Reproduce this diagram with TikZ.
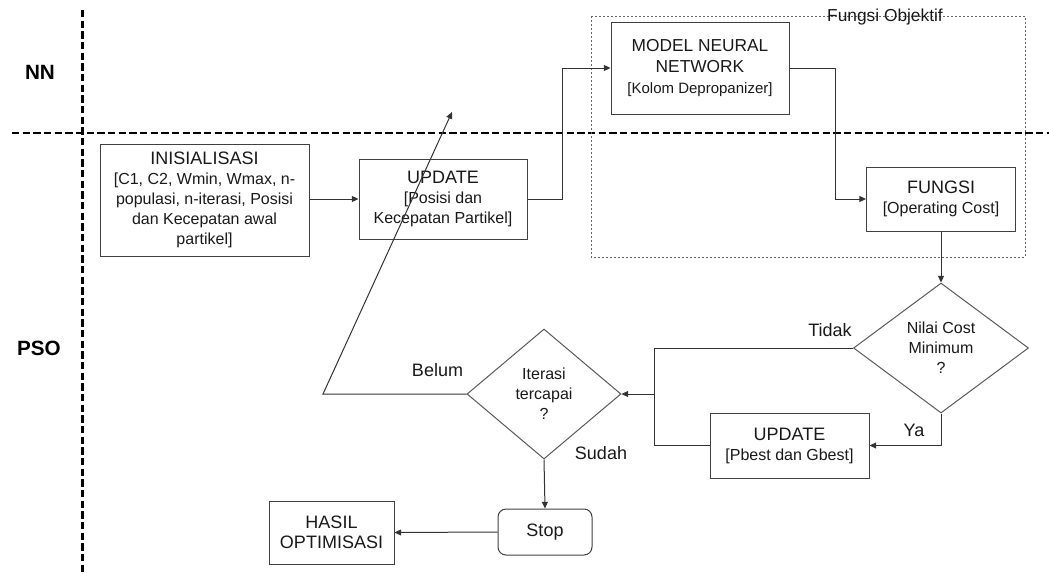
\documentclass[tikz,border=0pt]{standalone}
\usepackage{fontspec}
\setmainfont{Liberation Sans}
\usetikzlibrary{shapes.geometric,arrows.meta}
\newcommand\boxtitle[1]{{\fontsize{13.5}{15}\selectfont #1}}
\newcommand\modeltitle[1]{{\fontsize{13}{16}\selectfont #1}}
\begin{document}
\begin{tikzpicture}[x=0.75pt,y=-0.75pt,
  box/.style={draw=black!75, line width=0.75pt, align=center, inner sep=2pt,
    font=\fontsize{12}{15}\selectfont, text=black!90},
  dec/.style={diamond, draw=black!65, line width=0.75pt, align=center, inner sep=0pt,
    font=\fontsize{12}{15}\selectfont, text=black!90},
  conn/.style={draw=black!80, line width=0.75pt},
  arr/.style={conn, -{Triangle[length=5pt,width=4.5pt]}},
  lbl/.style={font=\fontsize{13.5}{16}\selectfont, text=black!90, inner sep=0pt},
  lane/.style={line width=1.6pt, dash pattern=on 5.5pt off 2.5pt},
  lanelbl/.style={font=\bfseries\fontsize{15.5}{18}\selectfont},
  objbox/.style={draw=black!60, line width=0.6pt, dash pattern=on 1.5pt off 1.5pt}
]
\useasboundingbox (0,0) rectangle (1049,575);

% swimlane separators
\draw[lane] (82.5,10) -- (82.5,575);
\draw[lane] (12,133) -- (1049,133);
\node[lanelbl] (nn) at (40,72) {NN};
\node[lanelbl] (pso) at (39,348) {PSO};

% objective-function group
\draw[objbox] (591,16) rectangle (1025,257);
\node[font=\fontsize{13}{15}\selectfont, text=black!90, inner sep=0pt] (obj) at (885,17) {Fungsi Objektif};

% process boxes
\node[box, minimum width=156.75pt, minimum height=84pt] (init) at (204.5,200)
  {\boxtitle{INISIALISASI}\\{[}C1, C2, Wmin, Wmax, n-\\populasi, n-iterasi, Posisi\\dan Kecepatan awal\\partikel{]}};
\node[box, minimum width=126pt, minimum height=60pt] (upd) at (443,199)
  {\boxtitle{UPDATE}\\{[}Posisi dan\\Kecepatan Partikel{]}};
\node[box, minimum width=133.5pt, minimum height=69pt, font=\fontsize{11.25}{16}\selectfont] (model) at (700,68)
  {\modeltitle{MODEL NEURAL}\\\modeltitle{NETWORK}\\{[}Kolom Depropanizer{]}};
\node[box, minimum width=111.75pt, minimum height=48pt] (fungsi) at (941,199)
  {\boxtitle{FUNGSI}\\{[}Operating Cost{]}};
\node[dec, minimum width=131.25pt, minimum height=97.5pt] (nilai) at (941,348)
  {Nilai Cost\\Minimum\\?};
\node[box, minimum width=119.25pt, minimum height=48.75pt] (upd2) at (789.5,445.5)
  {\boxtitle{UPDATE}\\{[}Pbest dan Gbest{]}};
\node[dec, minimum width=115.5pt, minimum height=97.5pt] (iter) at (544,394)
  {Iterasi\\tercapai\\?};
\node[box, rounded corners=6pt, minimum width=70.5pt, minimum height=34.5pt, font=\fontsize{13.5}{15}\selectfont] (stop) at (545,532) {Stop};
\node[box, minimum width=93.75pt, minimum height=47.25pt, font=\fontsize{13.5}{15}\selectfont] (hasil) at (331.5,532.5)
  {HASIL\\OPTIMISASI};

% branch labels
\node[lbl] (tidak) at (830,330) {Tidak};
\node[lbl] (belum) at (437.5,370) {Belum};
\node[lbl] (sudah) at (601,453) {Sudah};
\node[lbl] (ya) at (914,430) {Ya};

% connectors
\draw[arr] (upd.west -| init.east) -- (upd.west);
\draw[arr] (upd.east) -- ++(35,0) |- (model.west);
\draw[arr] (model.east) -- ++(46,0) |- (fungsi.west);
\draw[arr] (fungsi.south) -- (nilai.north);
\coordinate (join) at (654,394);
\draw[conn] (nilai.west) -| (join);
\draw[conn] (upd2.west) -| (join);
\draw[arr] (join) -- (iter.east);
\draw[arr] (nilai.south) |- (upd2.east);
\coordinate (back) at (323,394);
\coordinate (backtip) at (452,112);
\draw[arr] (iter.west) -- (back) -- (backtip);
\draw[arr] (iter.south) -- (stop.north);
\draw[arr] (stop.west) -- (hasil.east);
\end{tikzpicture}
\end{document}
